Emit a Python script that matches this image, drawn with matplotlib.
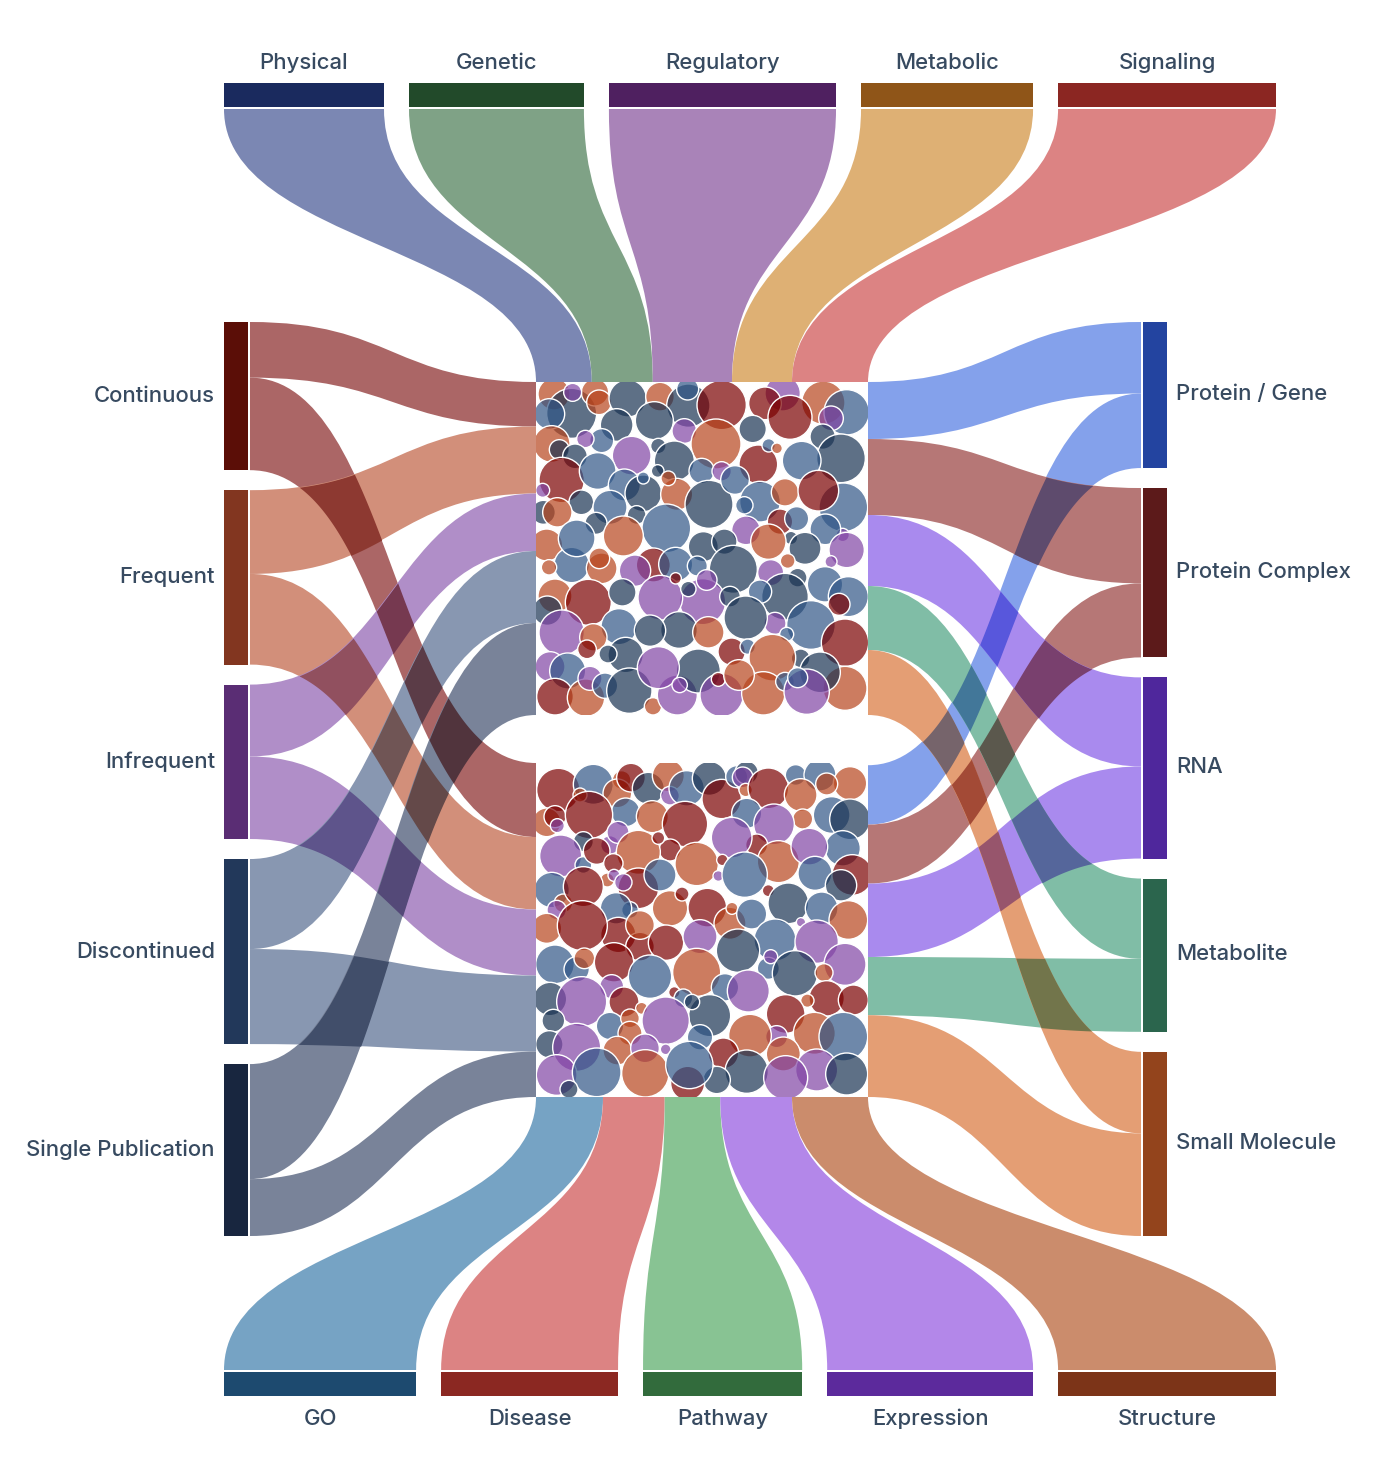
import itertools
import matplotlib
matplotlib.use('Agg')
import matplotlib.pyplot as plt
import numpy as np
from matplotlib.patches import Circle, PathPatch, Rectangle
from matplotlib.path import Path
from matplotlib.colors import to_rgb, to_rgba

plt.rcParams['font.family'] = ['Inter', 'DejaVu Sans']

# confidence levels -> [upper block, lower block]
left_names = ['Continuous', 'Frequent', 'Infrequent', 'Discontinued', 'Single Publication']
left_upper = [44.5, 67, 57.5, 72, 92]
left_lower = [74, 72.5, 66, 76, 45.5]
left_band = ['#730000', '#b44421', '#7b43a3', '#39527d', '#203055']
left_node = ['#5b0e07', '#823620', '#5a2d74', '#22385a', '#18263f']

right_names = ['Protein / Gene', 'Protein Complex', 'RNA', 'Metabolite', 'Small Molecule']
right_upper = [57, 76, 71, 64, 65]
right_lower = [59.4, 59, 73.4, 58.2, 81.8]
right_band = ['#3262de', '#851c1b', '#703ce3', '#2b916b', '#d25d17']
right_node = ['#2344a0', '#5c1a1a', '#4f279c', '#2b654d', '#93441c']

top_names = ['Physical', 'Genetic', 'Regulatory', 'Metabolic', 'Signaling']
top_values = [55.8, 61, 79.2, 60, 76]
top_band = ['#233780', '#2a6435', '#703089', '#c87b17', '#c53030']
top_node = ['#1a2a5e', '#224a2a', '#4f2060', '#8f5518', '#8b2622']

bottom_names = ['GO', 'Disease', 'Pathway', 'Expression', 'Structure']
bottom_values = [67, 61.7, 55.5, 71.8, 76]
bottom_band = ['#1b669d', '#c53030', '#399b4b', '#8037da', '#a83f0a']
bottom_node = ['#1d4a6f', '#8b2822', '#326b3c', '#5c2a9c', '#7c3418']

bubble_colors = {'S': '#305687', 'D': '#1a3353', 'P': '#8144a5', 'O': '#b7441c', 'R': '#7b0000'}

upper_a = [
    (72,57,45,'O'),(125,115,72,'D'),(195,52,38,'O'),(128,52,24,'P'),(207,82,34,'O'),(58,117,43,'S'),
    (293,70,53,'D'),(390,65,40,'O'),(475,92,62,'D'),(473,42,30,'S'),(758,55,50,'P'),(575,90,71,'R'),
    (705,85,46,'R'),(880,83,62,'O'),(950,112,65,'S'),(780,127,63,'R'),(903,130,34,'P'),(260,150,46,'D'),
    (373,137,54,'D'),(463,168,34,'P'),(668,162,38,'D'),(558,207,72,'O'),(878,185,35,'D'),(65,207,52,'O'),
    (88,224,27,'D'),(215,197,33,'S'),(166,192,23,'P'),(305,242,55,'P'),(385,213,20,'D'),(433,258,57,'D'),
    (135,244,34,'D'),(515,288,35,'S'),(575,289,26,'P'),(685,268,55,'R'),(716,211,17,'S'),(741,220,13,'O'),
    (933,250,70,'D'),(815,257,55,'S'),(95,315,65,'R'),(203,288,52,'S'),(283,330,45,'S'),(340,355,52,'D'),
    (340,309,15,'S'),(383,288,16,'D'),(440,358,45,'O'),(415,310,19,'O'),(38,346,18,'P'),(537,388,69,'D'),
    (615,315,40,'S'),(690,380,58,'S'),(765,352,38,'O'),(940,397,70,'S'),(865,347,58,'R'),(154,382,34,'D'),
    (240,397,48,'S'),(40,412,33,'D'),(82,412,41,'O'),(198,445,30,'D'),(320,420,25,'D'),(409,460,70,'S'),
    (643,391,23,'S'),(750,440,35,'R'),(800,431,33,'S'),(648,466,40,'P'),(938,480,17,'P'),(886,463,43,'S'),
    (783,489,17,'D'),(50,510,45,'O'),(125,570,50,'S'),(140,490,52,'S'),(280,483,57,'O'),(715,500,50,'O'),
    (825,520,45,'D'),(950,525,50,'P'),(520,515,42,'D'),(583,500,35,'D'),
]
upper_b = [
    (57,67,20,'O'),(215,70,43,'O'),(208,40,28,'O'),(370,60,48,'R'),(315,77,44,'P'),(437,58,48,'S'),
    (502,63,27,'S'),(610,73,69,'D'),(722,83,36,'P'),(773,48,19,'O'),(903,50,15,'P'),(803,98,25,'D'),
    (885,118,50,'S'),(955,155,57,'S'),(927,178,30,'R'),(765,155,67,'D'),(690,140,32,'S'),(75,153,48,'O'),
    (52,197,41,'D'),(175,172,66,'R'),(277,142,38,'D'),(518,170,66,'P'),(530,105,28,'P'),(391,158,64,'P'),
    (437,100,14,'R'),(475,132,20,'D'),(600,155,28,'D'),(735,235,30,'P'),(647,218,62,'D'),(843,240,70,'S'),
    (267,245,51,'S'),(447,255,52,'D'),(360,257,44,'D'),(535,262,44,'O'),(95,263,65,'P'),(190,277,38,'O'),
    (171,313,25,'R'),(287,330,50,'D'),(234,327,24,'D'),(605,320,38,'R'),(653,305,20,'S'),(770,268,18,'S'),
    (945,293,68,'R'),(812,340,25,'D'),(727,338,67,'O'),(60,365,42,'P'),(113,378,51,'S'),(75,455,52,'R'),
    (168,458,53,'O'),(180,400,33,'P'),(225,422,35,'S'),(298,437,65,'D'),(369,484,23,'O'),(442,450,57,'P'),
    (505,378,63,'D'),(385,368,60,'P'),(449,420,20,'P'),(575,450,62,'P'),(565,403,18,'R'),(700,445,62,'O'),
    (627,390,43,'O'),(765,410,25,'S'),(945,430,63,'O'),(870,382,58,'D'),(830,440,65,'P'),(803,398,27,'S'),
]
lower_a = [
    (85,90,62,'R'),(190,73,57,'S'),(275,60,25,'O'),(262,100,40,'O'),(303,53,40,'R'),(150,105,18,'O'),
    (355,85,45,'D'),(415,47,45,'O'),(420,107,25,'P'),(470,85,50,'S'),(538,55,48,'D'),(575,117,56,'R'),
    (620,50,30,'S'),(650,38,32,'D'),(638,52,28,'P'),(647,90,17,'O'),(715,85,58,'R'),(797,45,28,'S'),
    (870,45,45,'S'),(960,70,47,'O'),(890,72,30,'O'),(812,105,46,'O'),(650,160,42,'S'),(905,165,52,'S'),
    (960,178,58,'D'),(818,177,27,'O'),(732,193,58,'P'),(287,157,40,'S'),(50,187,40,'O'),(75,170,30,'R'),
    (82,197,18,'P'),(177,165,68,'R'),(367,170,45,'O'),(465,192,65,'R'),(680,255,30,'R'),(605,233,58,'P'),
    (160,245,27,'D'),(240,255,25,'P'),(264,217,30,'P'),(420,270,30,'R'),(325,277,63,'O'),(385,234,16,'R'),
    (745,305,60,'O'),(938,265,50,'S'),(838,260,52,'P'),(92,288,60,'P'),(160,315,22,'S'),(200,273,37,'R'),
    (250,310,26,'R'),(500,312,62,'O'),(577,300,14,'R'),(565,348,13,'P'),(644,344,65,'S'),(855,340,48,'S'),
    (967,345,58,'R'),(933,376,44,'D'),(325,385,58,'R'),(232,360,18,'O'),(252,346,15,'P'),(280,367,23,'P'),
    (390,345,45,'S'),(65,390,50,'S'),(100,430,25,'O'),(160,380,57,'R'),(80,450,26,'P'),(715,392,15,'R'),
    (775,430,58,'D'),(875,445,46,'S'),(420,445,50,'O'),(456,402,18,'R'),(532,443,55,'R'),(300,450,22,'S'),
    (258,445,44,'S'),(600,490,45,'O'),(606,445,15,'O'),(665,462,42,'S'),(955,480,55,'O'),(813,487,11,'P'),
]
lower_b = [
    (50,-5,42,'O'),(265,15,50,'R'),(157,-13,72,'R'),(330,50,40,'R'),(330,-15,40,'O'),(408,38,50,'R'),
    (510,20,48,'P'),(735,30,60,'S'),(624,62,62,'D'),(860,35,62,'P'),(75,103,55,'S'),(140,118,35,'S'),
    (163,85,28,'O'),(252,97,56,'R'),(360,140,62,'S'),(500,127,69,'O'),(715,115,30,'S'),(722,80,18,'P'),
    (795,130,65,'D'),(945,103,60,'P'),(882,128,24,'O'),(585,172,38,'S'),(655,183,60,'P'),(245,170,33,'P'),
    (60,207,47,'D'),(155,215,72,'P'),(282,216,42,'R'),(433,187,14,'R'),(460,205,25,'S'),(539,257,60,'D'),
    (486,216,20,'D'),(890,205,50,'R'),(970,210,42,'R'),(832,212,17,'O'),(767,252,55,'R'),(335,235,15,'O'),
    (407,272,68,'P'),(70,272,31,'D'),(240,288,38,'S'),(300,265,25,'O'),(300,310,33,'O'),(740,320,30,'P'),
    (660,317,61,'O'),(853,310,60,'O'),(940,320,70,'S'),(510,322,35,'S'),(58,343,38,'D'),(140,352,69,'P'),
    (262,362,40,'O'),(345,355,40,'P'),(407,358,13,'P'),(580,370,43,'R'),(760,372,48,'O'),(860,420,60,'P'),
    (650,425,62,'D'),(560,450,38,'D'),(473,460,48,'R'),(80,435,58,'P'),(200,427,70,'S'),(117,478,24,'D'),
    (346,430,68,'O'),(478,405,68,'S'),(767,443,63,'P'),(950,432,60,'D'),
]

fig = plt.figure(figsize=(13.94, 14.82), dpi=100)
ax = fig.add_axes([0, 0, 1, 1])
ax.set_xlim(0, 1394)
ax.set_ylim(1482, 0)
ax.axis('off')

text_color = '#374a60'
label_size = 15.9
block_x0, block_x1 = 536, 868
upper_y0, upper_y1 = 382, 715
lower_y0, lower_y1 = 763, 1097


def tint(color):
    # the band colour at 60% on white, as an opaque colour
    return np.array(to_rgb(color)) * 0.6 + 0.4


def h_band(x0, a0, a1, x1, b0, b1, color):
    """Band between two vertical edges, curved with the control points at mid x."""
    xm = (x0 + x1) / 2
    verts = [(x0, a0), (xm, a0), (xm, b0), (x1, b0), (x1, b1), (xm, b1), (xm, a1), (x0, a1), (x0, a0)]
    codes = [Path.MOVETO, Path.CURVE4, Path.CURVE4, Path.CURVE4, Path.LINETO,
             Path.CURVE4, Path.CURVE4, Path.CURVE4, Path.CLOSEPOLY]
    ax.add_patch(PathPatch(Path(verts, codes), facecolor=tint(color), edgecolor='none', zorder=1))


def v_band(y0, a0, a1, y1, b0, b1, color):
    ym = (y0 + y1) / 2
    verts = [(a0, y0), (a0, ym), (b0, ym), (b0, y1), (b1, y1), (b1, ym), (a1, ym), (a1, y0), (a0, y0)]
    codes = [Path.MOVETO, Path.CURVE4, Path.CURVE4, Path.CURVE4, Path.LINETO,
             Path.CURVE4, Path.CURVE4, Path.CURVE4, Path.CLOSEPOLY]
    ax.add_patch(PathPatch(Path(verts, codes), facecolor=tint(color), edgecolor='none', zorder=1))


def edge_on_grid(x0, y0, x1, y1, grid):
    # same cubic as h_band, resampled so edges of different bands can be compared
    t = np.linspace(0, 1, 800)
    xm = (x0 + x1) / 2
    ex = (1 - t) ** 3 * x0 + 3 * (1 - t) ** 2 * t * xm + 3 * (1 - t) * t ** 2 * xm + t ** 3 * x1
    ey = (1 - t) ** 3 * y0 + 3 * (1 - t) ** 2 * t * y0 + 3 * (1 - t) * t ** 2 * y1 + t ** 3 * y1
    order = np.argsort(ex)
    return np.interp(grid, ex[order], ey[order])


def draw_crossings(bands, x_min, x_max):
    # the reference multiplies overlapping bands, so paint each overlap in the product colour
    grid = np.linspace(x_min, x_max, 1500)
    edges = []
    for x0, a0, a1, x1, b0, b1, color in bands:
        edges.append((edge_on_grid(x0, a0, x1, b0, grid), edge_on_grid(x0, a1, x1, b1, grid), tint(color)))
    for size in (2, 3, 4):
        for combo in itertools.combinations(edges, size):
            lo = np.max([e[0] for e in combo], axis=0)
            hi = np.min([e[1] for e in combo], axis=0)
            inside = hi - lo > 0.05
            if not inside.any():
                continue
            color = np.prod([e[2] for e in combo], axis=0)
            ax.fill_between(grid, lo, hi, where=inside, color=color, lw=0, zorder=1.5)


def side_links(names, upper, lower, band, node, node_x0, node_x1, band_x, block_x, left):
    scale = (914 - 4 * 20) / (sum(upper) + sum(lower))
    y = 322
    up = upper_y0
    low = lower_y1 - sum(lower)
    bands = []
    for i, name in enumerate(names):
        h0 = upper[i] * scale
        h1 = lower[i] * scale
        bands.append((band_x, y, y + h0, block_x, up, up + upper[i], band[i]))
        bands.append((band_x, y + h0, y + h0 + h1, block_x, low, low + lower[i], band[i]))
        ax.add_patch(Rectangle((node_x0, y), node_x1 - node_x0, h0 + h1, facecolor=node[i], edgecolor='none', zorder=2))
        if left:
            ax.text(215, y + (h0 + h1) / 2, name, ha='right', va='center', fontsize=label_size,
                    fontweight='medium', color=text_color)
        else:
            ax.text(1176, y + (h0 + h1) / 2 - 1, name, ha='left', va='center', fontsize=label_size,
                    fontweight='medium', color=text_color)
        up += upper[i]
        low += lower[i]
        y += h0 + h1 + 20
    for b in bands:
        h_band(*b)
    draw_crossings(bands, min(band_x, block_x), max(band_x, block_x))


def end_links(names, values, band, node, band_y, block_y, node_y0, node_y1, label_y):
    scale = (1052 - 4 * 25) / sum(values)
    x = 224
    cx = block_x0
    for i, name in enumerate(names):
        w = values[i] * scale
        v_band(band_y, x, x + w, block_y, cx, cx + values[i], band[i])
        ax.add_patch(Rectangle((x, node_y0), w, node_y1 - node_y0, facecolor=node[i], edgecolor='none', zorder=2))
        ax.text(x + w / 2, label_y, name, ha='center', va='center', fontsize=label_size,
                fontweight='medium', color=text_color)
        cx += values[i]
        x += w + 25


def draw_bubbles(bubbles, origin_x, origin_y, clip):
    for bx, by, r, kind in bubbles:
        # crop readings sit just inside the white ring, hence the extra pixel
        c = Circle((origin_x + bx / 3, origin_y + by / 3), r / 3 + 1,
                   facecolor=to_rgba(bubble_colors[kind], 0.7), edgecolor='white', lw=1.0, zorder=4)
        ax.add_patch(c)
        c.set_clip_path(clip)


# links and nodes
side_links(left_names, left_upper, left_lower, left_band, left_node, 224, 248, 250, block_x0, True)
side_links(right_names, right_upper, right_lower, right_band, right_node, 1143, 1167, 1141, block_x1, False)
end_links(top_names, top_values, top_band, top_node, 109, upper_y0, 83, 107, 63)
end_links(bottom_names, bottom_values, bottom_band, bottom_node, 1370, lower_y1, 1372, 1396, 1419)

# central blocks with the packed bubbles
for y0, y1, crops in [(upper_y0, upper_y1, [(upper_a, 375), (upper_b, 545)]),
                      (lower_y0, lower_y1, [(lower_a, 760), (lower_b, 930)])]:
    rect = Rectangle((block_x0, y0), block_x1 - block_x0, y1 - y0, facecolor='white', edgecolor='none', zorder=3)
    ax.add_patch(rect)
    for bubbles, oy in crops:
        draw_bubbles(bubbles, 530, oy, rect)

fig.savefig('out.png', dpi=100, facecolor='white')
plt.close(fig)
